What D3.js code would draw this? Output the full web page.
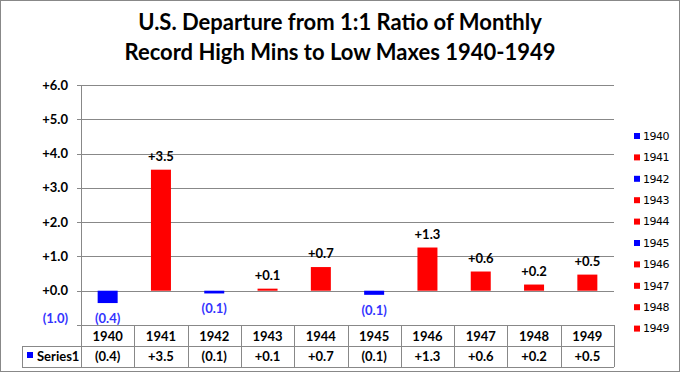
<!DOCTYPE html>
<html>
<head>
<meta charset="utf-8">
<script src="https://cdn.jsdelivr.net/npm/d3@7"></script>
<style>
  body { margin: 0; background: #fff; }
  svg text { font-family: Lato, "Open Sans", sans-serif; }
</style>
</head>
<body>
<svg id="chart" width="681" height="374"></svg>
<script>
// values
var years = ["1940", "1941", "1942", "1943", "1944", "1945", "1946", "1947", "1948", "1949"];
var values = [-0.36, 3.53, -0.08, 0.06, 0.69, -0.12, 1.26, 0.56, 0.18, 0.47];
var yTicks = [-1, 0, 1, 2, 3, 4, 5, 6];
var titleLines = ["U.S. Departure from 1:1 Ratio of Monthly", "Record High Mins to Low Maxes 1940-1949"];
var seriesName = "Series1";

var svg = d3.select("#chart");
var W = 681, H = 374;
var plotLeft = 81, plotRight = 614, plotTop = 85, plotBottom = 325;
var red = "#ff0000", blue = "#0000ff", labelBlue = "#3333ff";

function fmt(v) {
  var s = Math.abs(v).toFixed(1);
  return v < 0 ? "(" + s + ")" : "+" + s;
}

// outer border
svg.append("rect")
  .attr("x", 0.5).attr("y", 0.5)
  .attr("width", W - 2).attr("height", H - 3)
  .attr("fill", "none").attr("stroke", "#888");

// title
svg.append("g").selectAll("text")
  .data(titleLines)
  .enter().append("text")
  .attr("x", 340)
  .attr("y", function(d, i) { return 30 + i * 30; })
  .attr("text-anchor", "middle")
  .attr("font-size", 22)
  .attr("font-weight", "bold")
  .text(function(d) { return d; });

var x = d3.scaleBand().domain(years).range([plotLeft, plotRight]).paddingInner(0).paddingOuter(0);
var y = d3.scaleLinear().domain([-1, 6]).range([plotBottom, plotTop]);

// gridlines
svg.append("g").selectAll("line")
  .data(yTicks)
  .enter().append("line")
  .attr("x1", plotLeft - 4).attr("x2", plotRight)
  .attr("y1", function(d) { return Math.round(y(d)) + 0.5; })
  .attr("y2", function(d) { return Math.round(y(d)) + 0.5; })
  .attr("stroke", "#888");

// y axis line
svg.append("line")
  .attr("x1", plotLeft + 0.5).attr("x2", plotLeft + 0.5)
  .attr("y1", plotTop).attr("y2", plotBottom)
  .attr("stroke", "#888");

// y tick labels
svg.append("g").selectAll("text")
  .data(yTicks)
  .enter().append("text")
  .attr("x", 68)
  .attr("y", function(d) { return y(d) + (d < 0 ? -7 : 0); })
  .attr("dy", "0.35em")
  .attr("text-anchor", "end")
  .attr("font-size", 13)
  .attr("font-weight", "bold")
  .attr("fill", function(d) { return d < 0 ? labelBlue : "#000"; })
  .text(fmt);

// bars
var bw = 20;
svg.append("g").selectAll("rect")
  .data(values)
  .enter().append("rect")
  .attr("x", function(d, i) { return x(years[i]) + x.bandwidth() / 2 - bw / 2; })
  .attr("width", bw)
  .attr("y", function(d) { return y(Math.max(0, d)); })
  .attr("height", function(d) { return Math.abs(y(d) - y(0)); })
  .attr("fill", function(d) { return d < 0 ? blue : red; });

// data labels
svg.append("g").selectAll("text")
  .data(values)
  .enter().append("text")
  .attr("x", function(d, i) { return x(years[i]) + x.bandwidth() / 2; })
  .attr("y", function(d) { return d < 0 ? y(d) + 20 : y(d) - 9; })
  .attr("text-anchor", "middle")
  .attr("font-size", 13)
  .attr("font-weight", "bold")
  .attr("fill", function(d) { return d < 0 ? labelBlue : "#000"; })
  .text(fmt);

// data table
var rowTop = plotBottom, rowMid = 346, rowBot = 367, tableLeft = 22;
var tbl = svg.append("g").attr("stroke", "#888").attr("fill", "none");
tbl.append("line").attr("x1", plotLeft).attr("x2", plotRight).attr("y1", rowTop + 0.5).attr("y2", rowTop + 0.5);
tbl.append("line").attr("x1", tableLeft).attr("x2", plotRight).attr("y1", rowMid + 0.5).attr("y2", rowMid + 0.5);
tbl.append("line").attr("x1", tableLeft).attr("x2", plotRight).attr("y1", rowBot + 0.5).attr("y2", rowBot + 0.5);
tbl.append("line").attr("x1", tableLeft + 0.5).attr("x2", tableLeft + 0.5).attr("y1", rowMid).attr("y2", rowBot);
tbl.selectAll("line.v")
  .data(years.concat(["end"]))
  .enter().append("line")
  .attr("class", "v")
  .attr("x1", function(d, i) { return Math.round(plotLeft + i * x.bandwidth()) + 0.5; })
  .attr("x2", function(d, i) { return Math.round(plotLeft + i * x.bandwidth()) + 0.5; })
  .attr("y1", rowTop).attr("y2", rowBot);

svg.append("g").selectAll("text")
  .data(years)
  .enter().append("text")
  .attr("x", function(d) { return x(d) + x.bandwidth() / 2; })
  .attr("y", 341)
  .attr("text-anchor", "middle")
  .attr("font-size", 13)
  .attr("font-weight", "bold")
  .text(function(d) { return d; });

svg.append("g").selectAll("text")
  .data(values)
  .enter().append("text")
  .attr("x", function(d, i) { return x(years[i]) + x.bandwidth() / 2; })
  .attr("y", 361)
  .attr("text-anchor", "middle")
  .attr("font-size", 13)
  .attr("font-weight", "bold")
  .text(fmt);

svg.append("rect").attr("x", 27).attr("y", 352).attr("width", 6).attr("height", 6).attr("fill", blue);
svg.append("text").attr("x", 37).attr("y", 361)
  .attr("font-size", 13).attr("font-weight", "bold").text(seriesName);

// legend
var leg = svg.append("g").selectAll("g")
  .data(years)
  .enter().append("g")
  .attr("transform", function(d, i) { return "translate(634," + (136 + i * 21.4) + ")"; });
leg.append("rect")
  .attr("x", 0).attr("y", -3).attr("width", 6).attr("height", 6)
  .attr("fill", function(d, i) { return values[i] < 0 ? blue : red; });
leg.append("text")
  .attr("x", 9).attr("dy", "0.35em")
  .attr("font-size", 11)
  .style("font-family", "'DejaVu Sans', sans-serif")
  .attr("letter-spacing", "-0.5")
  .text(function(d) { return d; });
</script>
</body>
</html>
